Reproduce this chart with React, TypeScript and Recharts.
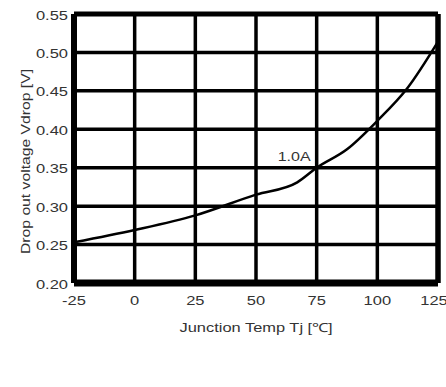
import { LineChart, Line, XAxis, YAxis, CartesianGrid, ReferenceLine, LabelList } from "recharts";

// junction temperature (°C) vs dropout voltage at 1.0A
const temps = [-25, 0, 25, 50, 67, 75, 87.5, 100, 112.5, 125];
const vdrop = [0.253, 0.269, 0.288, 0.315, 0.331, 0.35, 0.374, 0.411, 0.454, 0.514];
const seriesName = "1.0A";

const xTicks = [-25, 0, 25, 50, 75, 100, 125];
const yTicks = [0.2, 0.25, 0.3, 0.35, 0.4, 0.45, 0.5, 0.55];

const xTitle = "Junction Temp Tj [℃]";
const yTitle = "Drop out voltage Vdrop [V]";

const data = temps.map((t, i) => ({ t, v: vdrop[i] }));

const font = "'Liberation Sans', Arial, sans-serif";
const ink = "#333";
const fs = 12.5;
const stretch = 1.32;

// rough Arial advance widths (em), widened to the stretched lettering
const charW = (c: string) => (c === "." ? 0.278 : c === "-" ? 0.333 : 0.556);
const textW = (s: string) => s.split("").reduce((a, c) => a + charW(c), 0) * fs * stretch;

const Wide = ({ x, y, anchor, len, children, rotate }: any) => (
  <text
    x={x}
    y={y}
    textAnchor={anchor}
    textLength={len}
    lengthAdjust="spacingAndGlyphs"
    transform={rotate ? `rotate(-90 ${x} ${y})` : undefined}
    fill={ink}
    fontSize={fs}
    fontFamily={font}
  >
    {children}
  </text>
);

const XTick = ({ x, y, payload }: any) => {
  const s = String(payload.value);
  return <Wide x={x} y={y + 9} anchor="middle" len={textW(s)}>{s}</Wide>;
};

const YTick = ({ x, y, payload }: any) => {
  const s = Number(payload.value).toFixed(2);
  return <Wide x={x} y={y + 5.5} anchor="end" len={textW(s)}>{s}</Wide>;
};

const XTitle = ({ viewBox }: any) => (
  <Wide x={viewBox.x + viewBox.width / 2} y={viewBox.y + 49} anchor="middle" len={153}>{xTitle}</Wide>
);

const YTitle = ({ viewBox }: any) => (
  <Wide x={30} y={viewBox.y + viewBox.height / 2 + 13} anchor="middle" len={185} rotate>{yTitle}</Wide>
);

const SeriesTag = (props: any) => {
  const { x, y, index } = props;
  if (temps[index] !== 75) return null;
  return <Wide x={x - 6} y={y - 7} anchor="end" len={33}>{seriesName}</Wide>;
};

export default function App() {
  return (
    <div style={{ width: 446, height: 387, background: "#fff" }}>
      <style>{"body{margin:0}"}</style>
      <LineChart width={446} height={387} data={data} margin={{ top: 14, right: 8, left: 0, bottom: 74 }}>
        <CartesianGrid stroke="#000" strokeWidth={3.5} strokeOpacity={1} />
        <XAxis
          dataKey="t"
          type="number"
          domain={[-25, 125]}
          ticks={xTicks}
          tick={XTick}
          tickLine={false}
          tickSize={0}
          tickMargin={13}
          height={30}
          axisLine={{ stroke: "#000", strokeWidth: 7 }}
          label={{ content: XTitle }}
        />
        <YAxis
          type="number"
          domain={[0.2, 0.55]}
          ticks={yTicks}
          tick={YTick}
          tickLine={false}
          tickSize={0}
          tickMargin={6}
          width={74}
          axisLine={{ stroke: "#000", strokeWidth: 6 }}
          label={{ content: YTitle }}
        />
        <ReferenceLine y={0.55} stroke="#000" strokeWidth={5} />
        <ReferenceLine x={125} stroke="#000" strokeWidth={5.5} />
        <Line
          dataKey="v"
          type="monotone"
          stroke="#000"
          strokeWidth={2.5}
          dot={false}
          activeDot={false}
          isAnimationActive={false}
        >
          <LabelList dataKey="v" content={SeriesTag} />
        </Line>
      </LineChart>
    </div>
  );
}
